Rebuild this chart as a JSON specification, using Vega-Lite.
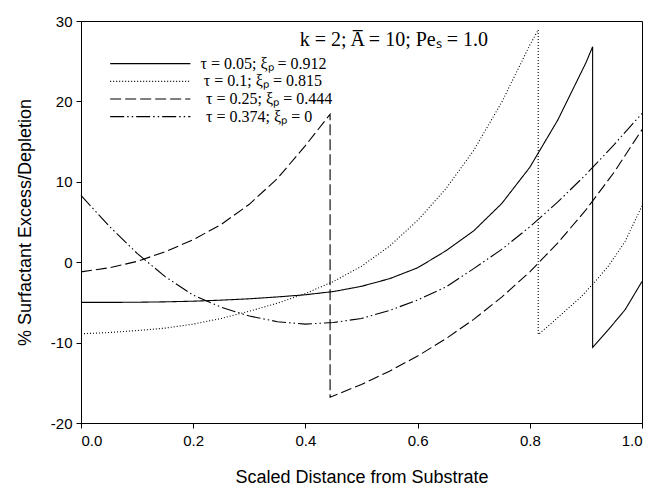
{
  "$schema": "https://vega.github.io/schema/vega-lite/v6.json",
  "width": 561,
  "height": 402,
  "autosize": {"type": "none"},
  "padding": {"left": 81, "top": 21, "right": 11, "bottom": 66},
  "background": "white",
  "config": {
    "view": {"stroke": "black", "strokeWidth": 1},
    "axis": {
      "grid": false,
      "domainColor": "black",
      "tickColor": "black",
      "tickSize": 5,
      "labelColor": "black",
      "titleColor": "black",
      "labelFont": "Liberation Sans",
      "titleFont": "Liberation Sans",
      "labelFontSize": 15,
      "titleFontSize": 18,
      "titleFontWeight": "normal"
    }
  },
  "data": {
    "values": [
      {"s": "a", "i": 0, "x": 0.0, "y": -5.0},
      {"s": "a", "i": 1, "x": 0.05, "y": -5.0},
      {"s": "a", "i": 2, "x": 0.1, "y": -4.98},
      {"s": "a", "i": 3, "x": 0.15, "y": -4.93},
      {"s": "a", "i": 4, "x": 0.2, "y": -4.85},
      {"s": "a", "i": 5, "x": 0.25, "y": -4.72},
      {"s": "a", "i": 6, "x": 0.3, "y": -4.55},
      {"s": "a", "i": 7, "x": 0.35, "y": -4.32},
      {"s": "a", "i": 8, "x": 0.4, "y": -4.05},
      {"s": "a", "i": 9, "x": 0.45, "y": -3.65},
      {"s": "a", "i": 10, "x": 0.5, "y": -3.0},
      {"s": "a", "i": 11, "x": 0.55, "y": -2.05},
      {"s": "a", "i": 12, "x": 0.6, "y": -0.7},
      {"s": "a", "i": 13, "x": 0.65, "y": 1.4},
      {"s": "a", "i": 14, "x": 0.7, "y": 3.9},
      {"s": "a", "i": 15, "x": 0.75, "y": 7.3},
      {"s": "a", "i": 16, "x": 0.8, "y": 11.8},
      {"s": "a", "i": 17, "x": 0.85, "y": 17.7},
      {"s": "a", "i": 18, "x": 0.9, "y": 24.8},
      {"s": "a", "i": 19, "x": 0.912, "y": 26.8},
      {"s": "a", "i": 20, "x": 0.912, "y": -10.6},
      {"s": "a", "i": 21, "x": 0.94, "y": -8.4},
      {"s": "a", "i": 22, "x": 0.97, "y": -5.9},
      {"s": "a", "i": 23, "x": 1.0, "y": -2.4},

      {"s": "b", "i": 0, "x": 0.0, "y": -8.9},
      {"s": "b", "i": 1, "x": 0.05, "y": -8.75},
      {"s": "b", "i": 2, "x": 0.1, "y": -8.5},
      {"s": "b", "i": 3, "x": 0.15, "y": -8.2},
      {"s": "b", "i": 4, "x": 0.2, "y": -7.7},
      {"s": "b", "i": 5, "x": 0.25, "y": -7.0},
      {"s": "b", "i": 6, "x": 0.3, "y": -6.1},
      {"s": "b", "i": 7, "x": 0.35, "y": -5.1},
      {"s": "b", "i": 8, "x": 0.4, "y": -3.9},
      {"s": "b", "i": 9, "x": 0.45, "y": -2.4},
      {"s": "b", "i": 10, "x": 0.5, "y": -0.5},
      {"s": "b", "i": 11, "x": 0.55, "y": 2.0},
      {"s": "b", "i": 12, "x": 0.6, "y": 5.2},
      {"s": "b", "i": 13, "x": 0.65, "y": 9.1},
      {"s": "b", "i": 14, "x": 0.7, "y": 13.9},
      {"s": "b", "i": 15, "x": 0.75, "y": 19.9},
      {"s": "b", "i": 16, "x": 0.8, "y": 27.0},
      {"s": "b", "i": 17, "x": 0.815, "y": 28.9},
      {"s": "b", "i": 18, "x": 0.815, "y": -9.0},
      {"s": "b", "i": 19, "x": 0.84, "y": -7.5},
      {"s": "b", "i": 20, "x": 0.866, "y": -5.9},
      {"s": "b", "i": 21, "x": 0.89, "y": -4.4},
      {"s": "b", "i": 22, "x": 0.914, "y": -2.6},
      {"s": "b", "i": 23, "x": 0.94, "y": -0.5},
      {"s": "b", "i": 24, "x": 0.97, "y": 2.6},
      {"s": "b", "i": 25, "x": 1.0, "y": 7.0},

      {"s": "c", "i": 0, "x": 0.0, "y": -1.2},
      {"s": "c", "i": 1, "x": 0.05, "y": -0.7},
      {"s": "c", "i": 2, "x": 0.1, "y": 0.1},
      {"s": "c", "i": 3, "x": 0.15, "y": 1.3},
      {"s": "c", "i": 4, "x": 0.2, "y": 2.8},
      {"s": "c", "i": 5, "x": 0.25, "y": 4.7},
      {"s": "c", "i": 6, "x": 0.3, "y": 7.2},
      {"s": "c", "i": 7, "x": 0.35, "y": 10.4},
      {"s": "c", "i": 8, "x": 0.4, "y": 14.5},
      {"s": "c", "i": 9, "x": 0.444, "y": 18.4},
      {"s": "c", "i": 10, "x": 0.444, "y": -16.8},
      {"s": "c", "i": 11, "x": 0.5, "y": -15.2},
      {"s": "c", "i": 12, "x": 0.55, "y": -13.55},
      {"s": "c", "i": 13, "x": 0.6, "y": -11.67},
      {"s": "c", "i": 14, "x": 0.65, "y": -9.54},
      {"s": "c", "i": 15, "x": 0.7, "y": -7.11},
      {"s": "c", "i": 16, "x": 0.75, "y": -4.34},
      {"s": "c", "i": 17, "x": 0.8, "y": -1.2},
      {"s": "c", "i": 18, "x": 0.85, "y": 2.4},
      {"s": "c", "i": 19, "x": 0.9, "y": 6.5},
      {"s": "c", "i": 20, "x": 0.95, "y": 11.15},
      {"s": "c", "i": 21, "x": 1.0, "y": 16.5},

      {"s": "d", "i": 0, "x": 0.0, "y": 8.3},
      {"s": "d", "i": 1, "x": 0.05, "y": 4.5},
      {"s": "d", "i": 2, "x": 0.1, "y": 1.1},
      {"s": "d", "i": 3, "x": 0.15, "y": -1.8},
      {"s": "d", "i": 4, "x": 0.2, "y": -4.1},
      {"s": "d", "i": 5, "x": 0.25, "y": -5.6},
      {"s": "d", "i": 6, "x": 0.3, "y": -6.7},
      {"s": "d", "i": 7, "x": 0.35, "y": -7.4},
      {"s": "d", "i": 8, "x": 0.4, "y": -7.7},
      {"s": "d", "i": 9, "x": 0.45, "y": -7.5},
      {"s": "d", "i": 10, "x": 0.5, "y": -7.0},
      {"s": "d", "i": 11, "x": 0.55, "y": -6.0},
      {"s": "d", "i": 12, "x": 0.6, "y": -4.7},
      {"s": "d", "i": 13, "x": 0.65, "y": -3.1},
      {"s": "d", "i": 14, "x": 0.7, "y": -0.8},
      {"s": "d", "i": 15, "x": 0.75, "y": 1.6},
      {"s": "d", "i": 16, "x": 0.8, "y": 4.4},
      {"s": "d", "i": 17, "x": 0.85, "y": 7.5},
      {"s": "d", "i": 18, "x": 0.9, "y": 10.9},
      {"s": "d", "i": 19, "x": 0.95, "y": 14.6},
      {"s": "d", "i": 20, "x": 1.0, "y": 18.5}
    ]
  },
  "layer": [
    {
      "mark": {"type": "line", "color": "black", "strokeWidth": 1.1},
      "encoding": {
        "x": {
          "field": "x", "type": "quantitative",
          "scale": {"domain": [0, 1], "nice": false},
          "axis": {"values": [0, 0.2, 0.4, 0.6, 0.8, 1.0], "format": ".1f", "title": "Scaled Distance from Substrate", "titlePadding": 20, "labelPadding": 5}
        },
        "y": {
          "field": "y", "type": "quantitative",
          "scale": {"domain": [-20, 30], "nice": false},
          "axis": {"values": [-20, -10, 0, 10, 20, 30], "labelExpr": "'' + datum.value", "title": "% Surfactant Excess/Depletion", "titlePadding": 16, "labelPadding": 4}
        },
        "strokeDash": {
          "field": "s", "type": "nominal",
          "scale": {"domain": ["a", "b", "c", "d"], "range": [[1, 0], [1, 2], [11, 4], [14, 3, 1.5, 3, 1.5, 3]]},
          "legend": null
        },
        "order": {"field": "i", "type": "quantitative"}
      }
    },
    {
      "data": {"values": [{}]},
      "mark": {"type": "rule", "color": "black", "strokeWidth": 1.2},
      "encoding": {"x": {"datum": 0.052}, "x2": {"datum": 0.195}, "y": {"datum": 24.7}}
    },
    {
      "data": {"values": [{}]},
      "mark": {"type": "rule", "color": "black", "strokeWidth": 1.2, "strokeDash": [1, 2]},
      "encoding": {"x": {"datum": 0.052}, "x2": {"datum": 0.195}, "y": {"datum": 22.5}}
    },
    {
      "data": {"values": [{}]},
      "mark": {"type": "rule", "color": "black", "strokeWidth": 1.2, "strokeDash": [11, 4]},
      "encoding": {"x": {"datum": 0.052}, "x2": {"datum": 0.195}, "y": {"datum": 20.3}}
    },
    {
      "data": {"values": [{}]},
      "mark": {"type": "rule", "color": "black", "strokeWidth": 1.2, "strokeDash": [14, 3, 1.5, 3, 1.5, 3]},
      "encoding": {"x": {"datum": 0.052}, "x2": {"datum": 0.195}, "y": {"datum": 18.1}}
    },
    {
      "data": {"values": [{}]},
      "mark": {"type": "text", "align": "left", "baseline": "middle", "font": "Liberation Serif", "fontSize": 16, "color": "black"},
      "encoding": {"x": {"datum": 0.213}, "y": {"datum": 24.7}, "text": {"value": "τ = 0.05; ξₚ = 0.912"}}
    },
    {
      "data": {"values": [{}]},
      "mark": {"type": "text", "align": "left", "baseline": "middle", "font": "Liberation Serif", "fontSize": 16, "color": "black"},
      "encoding": {"x": {"datum": 0.219}, "y": {"datum": 22.5}, "text": {"value": "τ = 0.1; ξₚ = 0.815"}}
    },
    {
      "data": {"values": [{}]},
      "mark": {"type": "text", "align": "left", "baseline": "middle", "font": "Liberation Serif", "fontSize": 16, "color": "black"},
      "encoding": {"x": {"datum": 0.223}, "y": {"datum": 20.3}, "text": {"value": "τ = 0.25; ξₚ = 0.444"}}
    },
    {
      "data": {"values": [{}]},
      "mark": {"type": "text", "align": "left", "baseline": "middle", "font": "Liberation Serif", "fontSize": 16, "color": "black"},
      "encoding": {"x": {"datum": 0.223}, "y": {"datum": 18.1}, "text": {"value": "τ = 0.374; ξₚ = 0"}}
    },
    {
      "data": {"values": [{}]},
      "mark": {"type": "text", "align": "left", "baseline": "middle", "font": "Liberation Serif", "fontSize": 20, "color": "black"},
      "encoding": {"x": {"datum": 0.39}, "y": {"datum": 27.6}, "text": {"value": "k = 2; A̅ = 10; Peₛ = 1.0"}}
    }
  ]
}
